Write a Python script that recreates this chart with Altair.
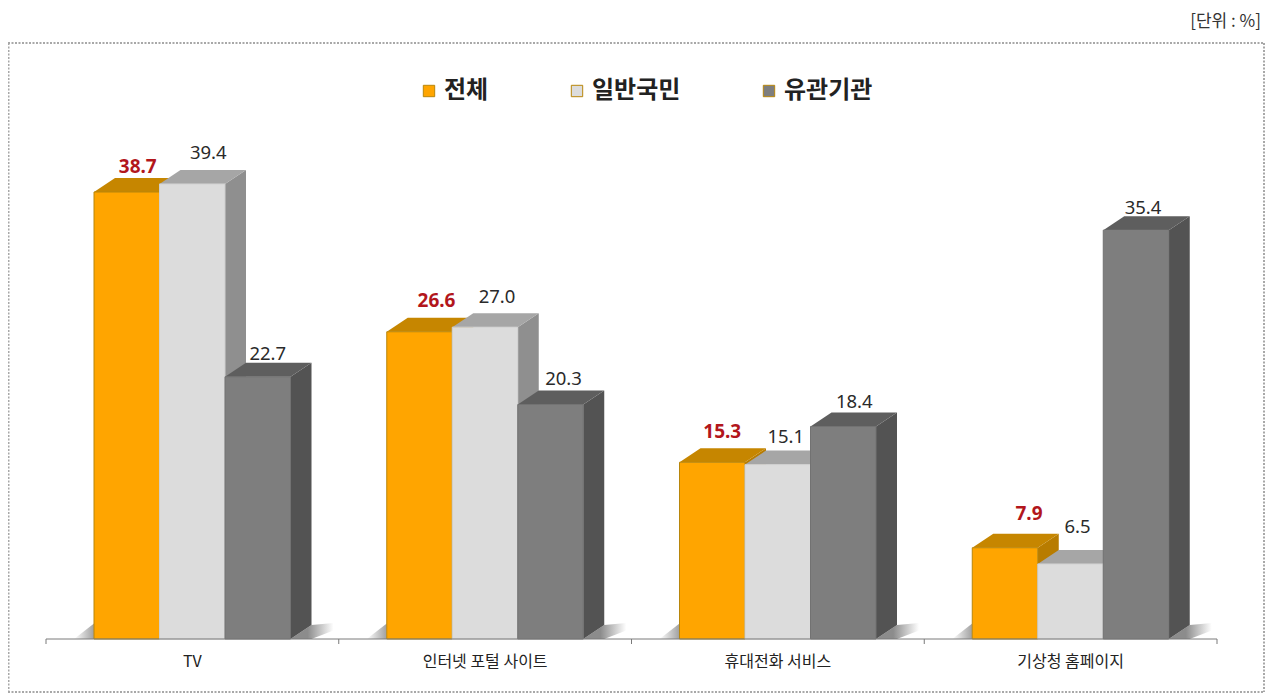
import altair as alt
import pandas as pd

categories = ["TV", "인터넷 포털 사이트", "휴대전화 서비스", "기상청 홈페이지"]
series_names = ["전체", "일반국민", "유관기관"]
total = [38.7, 26.6, 15.3, 7.9]
public = [39.4, 27.0, 15.1, 6.5]
agency = [22.7, 20.3, 18.4, 35.4]
unit_text = "[단위 : %]"

values = [total, public, agency]
front = ["#FFA500", "#DCDCDC", "#7E7E7E"]
edge = ["#B8860B", "#CFCFCF", "#727272"]
top = ["#C68600", "#A6A6A6", "#5E5E5E"]
side = ["#B87C00", "#8F8F8F", "#535353"]
label_color = ["#B2161C", "#2A2A2A", "#2A2A2A"]
label_weight = ["bold", "normal", "normal"]
label_size = [19, 18.5, 18.5]

# pixel metrics of the scales
W, H = 1257, 685
X0, XSTEP = 38, 292.75      # plot-left to first tick; px per category
Y0, YUNIT = 631, 11.55      # plot-top to baseline; px per percent
BAR, DEP, RISE, LEFT = 65.5 / XSTEP, 21 / XSTEP, 14 / YUNIT, 48 / XSTEP
xs = alt.Scale(domain=[-X0 / XSTEP, (W - X0) / XSTEP], nice=False, zero=False)
ys = alt.Scale(domain=[(Y0 - H) / YUNIT, Y0 / YUNIT], nice=False, zero=False)
X = lambda f="x": alt.X(f"{f}:Q", scale=xs, axis=None)
Y = lambda f="y": alt.Y(f"{f}:Q", scale=ys, axis=None)

# label nudges in px (dx from bar centre, rise above the front top)
nudge = [
    [(11, 25), (16, 31), (10, 23)],
    [(17, 31), (12, 30), (13, 26)],
    [(10, 30), (8, 28), (11, 24)],
    [(24, 34), (7, 37), (7, 22)],
]


def L(g, s):
    return g + LEFT + s * BAR


def area_layer(rows, **mark):
    return alt.Chart(pd.DataFrame(rows)).mark_area(orient="vertical", **mark).encode(
        x=X(), y=Y(), y2="y2:Q", detail="g:N"
    )


layers = []

# ground shadows
left_rows, right_rows = [], []
for g in range(4):
    l0, r0 = L(g, 0), L(g, 3)
    left_rows += [
        dict(g=g, x=l0 - 20 / XSTEP, y=0, y2=0),
        dict(g=g, x=l0, y=0, y2=RISE * 1.1),
    ]
    right_rows += [
        dict(g=g, x=r0, y=0, y2=0),
        dict(g=g, x=r0 + DEP, y=0, y2=RISE),
        dict(g=g, x=r0 + DEP + 22 / XSTEP, y=RISE * 0.6, y2=RISE * 1.15),
    ]
layers.append(area_layer(left_rows, color=alt.Gradient(
    gradient="linear", x1=0, x2=1, y1=0, y2=0,
    stops=[alt.GradientStop(color="#FFFFFF", offset=0), alt.GradientStop(color="#A0A0A0", offset=1)])))
layers.append(area_layer(right_rows, color=alt.Gradient(
    gradient="linear", x1=0, x2=1, y1=0, y2=0,
    stops=[alt.GradientStop(color="#8C8C8C", offset=0.4), alt.GradientStop(color="#FFFFFF", offset=1)])))

# bars: painted left to right, side, top, then front of each series
for s, name in enumerate(series_names):
    side_rows, top_rows, front_rows = [], [], []
    for g, v in enumerate(values[s]):
        a, b = L(g, s), L(g, s) + BAR
        side_rows += [dict(g=g, x=b, y=0, y2=v), dict(g=g, x=b + DEP, y=RISE, y2=v + RISE)]
        top_rows += [
            dict(g=g, x=a, y=v, y2=v),
            dict(g=g, x=a + DEP, y=v, y2=v + RISE),
            dict(g=g, x=b, y=v, y2=v + RISE),
            dict(g=g, x=b + DEP, y=v + RISE, y2=v + RISE),
        ]
        front_rows.append(dict(g=g, x=a, x2=b, y=0, y2=v, series=name))
    layers.append(area_layer(side_rows, color=side[s]))
    layers.append(area_layer(top_rows, color=top[s]))
    layers.append(
        alt.Chart(pd.DataFrame(front_rows))
        .mark_rect(stroke=edge[s], strokeWidth=1)
        .encode(
            x=X(), x2="x2:Q", y=Y(), y2="y2:Q",
            color=alt.Color(
                "series:N",
                scale=alt.Scale(domain=series_names, range=front),
                legend=alt.Legend(
                    title=None, orient="none", legendX=409, legendY=71,
                    direction="horizontal", columns=3, symbolType="square",
                    symbolSize=130, symbolStrokeWidth=1, labelFontSize=24,
                    labelFont="Noto Sans CJK KR", labelFontWeight="bold",
                    labelColor="#222222", labelOffset=3, columnPadding=76,
                    padding=0,
                ),
            ),
        )
    )

# value labels
label_rows = []
for g in range(4):
    for s in range(3):
        dx, up = nudge[g][s]
        label_rows.append(dict(
            x=L(g, s) + BAR / 2 + dx / XSTEP,
            y=values[s][g] + up / YUNIT,
            text=f"{values[s][g]:.1f}", s=s,
        ))
label_df = pd.DataFrame(label_rows)
for s in range(3):
    layers.append(
        alt.Chart(label_df[label_df.s == s])
        .mark_text(font="Noto Sans", fontSize=label_size[s], fontWeight=label_weight[s],
                   color=label_color[s], baseline="middle", align="center")
        .encode(x=X(), y=Y(), text="text:N")
    )

# category axis
axis_df = pd.DataFrame({"x": [0, 4], "y": [0, 0]})
layers.append(alt.Chart(axis_df).mark_line(color="#7A7A7A", strokeWidth=1).encode(x=X(), y=Y()))
tick_df = pd.DataFrame({"x": [0, 1, 2, 3, 4], "y": 0, "y2": -5 / YUNIT})
layers.append(alt.Chart(tick_df).mark_rule(color="#7A7A7A").encode(x=X(), y=Y(), y2="y2:Q"))
cat_df = pd.DataFrame({
    "x": [i + 0.5 for i in range(4)], "y": [-23 / YUNIT] * 4, "text": categories
})
layers.append(
    alt.Chart(cat_df)
    .mark_text(font="Noto Sans CJK KR", fontSize=16, color="#222222", baseline="middle")
    .encode(x=X(), y=Y(), text="text:N")
)

# dotted frame and unit note
dot = dict(color="#A8A8A8", strokeWidth=2, strokeDash=[2, 1.5])
layers.append(alt.Chart().mark_rule(**dot).encode(x=alt.value(0), x2=alt.value(1256), y=alt.value(35)))
layers.append(alt.Chart().mark_rule(**dot).encode(x=alt.value(0), x2=alt.value(1256), y=alt.value(684)))
layers.append(alt.Chart().mark_rule(**dot).encode(x=alt.value(0.5), y=alt.value(35), y2=alt.value(684)))
layers.append(alt.Chart().mark_rule(**dot).encode(x=alt.value(1256), y=alt.value(35), y2=alt.value(684)))
layers.append(
    alt.Chart().mark_text(text=unit_text, font="Noto Sans CJK KR", fontSize=17,
                          color="#333333", align="right", baseline="middle")
    .encode(x=alt.value(1253), y=alt.value(14))
)

chart = (
    alt.layer(*layers)
    .resolve_scale(color="shared")
    .properties(width=W, height=H, padding=0, autosize=alt.AutoSizeParams(type="none"))
    .configure_view(stroke=None)
)
chart.save("out.html", embed_options={"renderer": "svg", "actions": False})
